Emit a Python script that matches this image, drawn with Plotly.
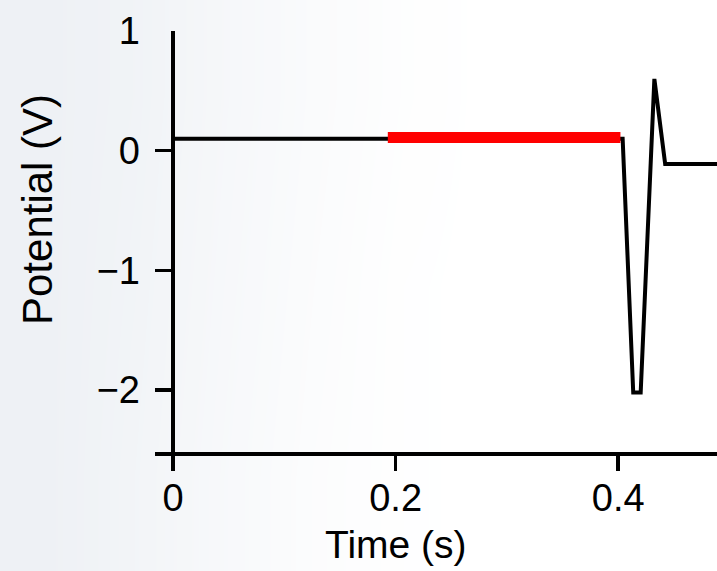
import plotly.graph_objects as go

# ---- data ----
time_s = [0.0, 0.2, 0.404, 0.4135, 0.4202, 0.4325, 0.4422, 0.49]
potential_v = [0.1, 0.1, 0.1, -2.02, -2.02, 0.6, -0.11, -0.11]

stim_time = [0.193, 0.402]
stim_level = [0.11, 0.11]

x_ticks = [0, 0.2, 0.4]
x_tick_labels = ["0", "0.2", "0.4"]
y_ticks = [1, 0, -1, -2]
y_tick_labels = ["1", "0", "\u22121", "\u22122"]

# background gradient (style only)
bg_z = [[1.0, 0.75, 0.45, 0.2, 0.05, 0.0, 0.0, 0.0],
        [1.0, 0.8, 0.5, 0.25, 0.05, 0.0, 0.0, 0.0],
        [1.0, 0.85, 0.55, 0.3, 0.1, 0.0, 0.0, 0.0]]

W, H = 717, 571
FONT = "Liberation Sans, Arial, sans-serif"

fig = go.Figure()

fig.add_trace(go.Heatmap(z=bg_z, xaxis="x", yaxis="y", showscale=False,
                         colorscale=[[0, "#ffffff"], [1, "#eef1f5"]],
                         zsmooth="best", hoverinfo="skip"))

fig.add_trace(go.Scatter(x=time_s, y=potential_v, mode="lines",
                         line=dict(color="black", width=4),
                         xaxis="x2", yaxis="y2", showlegend=False))
fig.add_trace(go.Scatter(x=stim_time, y=stim_level, mode="lines",
                         line=dict(color="#ff0000", width=11),
                         xaxis="x2", yaxis="y2", showlegend=False))

left = 155 / W
bottom = 1 - 452 / H
top = 1 - 31 / H

fig.update_layout(
    width=W, height=H,
    margin=dict(l=0, r=0, t=0, b=0, pad=0, autoexpand=False),
    showlegend=False,
    paper_bgcolor="white",
    plot_bgcolor="rgba(0,0,0,0)",
    font=dict(family=FONT, color="black", size=38),
    xaxis=dict(domain=[0, 1], visible=False, fixedrange=True),
    yaxis=dict(domain=[0, 1], visible=False, fixedrange=True),
    xaxis2=dict(domain=[left, 1], anchor="y2",
                range=[-18 / 1113, 544 / 1113],
                showline=True, linecolor="black", linewidth=3.5,
                ticks="outside", ticklen=15, tickwidth=3.5, tickcolor="black",
                tickvals=x_ticks, ticktext=x_tick_labels,
                tickfont=dict(size=38), ticklabelstandoff=-5,
                showgrid=False,
                zeroline=True, zerolinecolor="black", zerolinewidth=3.5),
    yaxis2=dict(domain=[bottom, top], anchor="x2",
                range=[-302 / 120, 1],
                showline=False,
                ticks="inside", ticklen=18, tickwidth=3.5, tickcolor="black",
                tickvals=y_ticks, ticktext=y_tick_labels,
                tickfont=dict(size=38), ticklabelstandoff=14,
                showgrid=False, zeroline=False),
    annotations=[
        dict(text="Time (s)", xref="paper", yref="paper",
             x=396 / W, y=1 - 544 / H, showarrow=False,
             font=dict(size=39), xanchor="center", yanchor="middle"),
        dict(text="Potential (V)", xref="paper", yref="paper",
             x=37 / W, y=1 - 210 / H, showarrow=False, textangle=-90,
             font=dict(size=42), xanchor="center", yanchor="middle"),
    ],
)

fig.write_html(
    "out.html",
    config={"displayModeBar": False, "staticPlot": True},
    post_script="document.body.style.margin='0';document.body.style.overflow='hidden';",
)
